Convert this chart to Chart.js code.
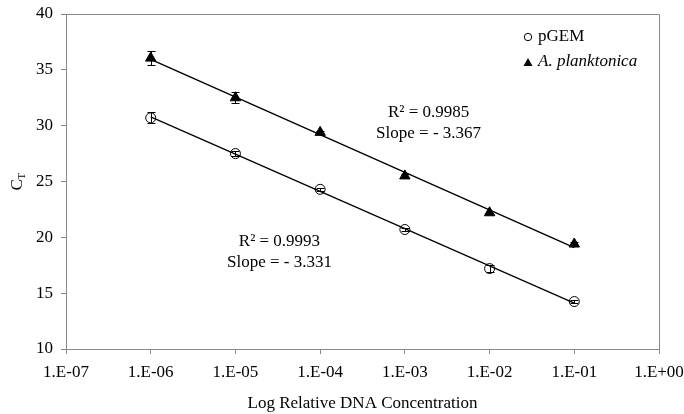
<!DOCTYPE html>
<html lang="en">
<head>
<meta charset="UTF-8">
<title>CT vs Log Relative DNA Concentration</title>
<script src="https://cdn.jsdelivr.net/npm/chart.js@4.4.0/dist/chart.umd.min.js"></script>
<style>
    html, body { margin: 0; padding: 0; background: #fff; }
</style>
</head>
<body>
<canvas id="myChart" width="684" height="414"></canvas>
<script>
    // values
    const concentrations = [1e-6, 1e-5, 1e-4, 1e-3, 1e-2, 1e-1];
    const pgemCt = [30.7, 27.5, 24.3, 20.7, 17.2, 14.25];
    const pgemErr = [0.5, 0.2, 0.15, 0.15, 0.3, 0.15];
    const planktonicaCt = [36.05, 32.5, 29.4, 25.5, 22.2, 19.4];
    const planktonicaErr = [0.6, 0.5, 0.15, 0.2, 0.15, 0.15];
    const seriesNames = ['pGEM', 'A. planktonica'];
    const fitText = [['R\u00B2 = 0.9993', 'Slope = - 3.331'], ['R\u00B2 = 0.9985', 'Slope = - 3.367']];
    const xTickValues = [1e-7, 1e-6, 1e-5, 1e-4, 1e-3, 1e-2, 1e-1, 1];
    const xTickLabels = ['1.E-07', '1.E-06', '1.E-05', '1.E-04', '1.E-03', '1.E-02', '1.E-01', '1.E+00'];

    const FONT = '"Liberation Serif", "Times New Roman", serif';
    Chart.defaults.font.family = FONT;
    Chart.defaults.font.size = 17;
    Chart.defaults.color = '#000';

    // least squares in log10(x)
    function trend(xs, ys) {
        const lx = xs.map(v => Math.log10(v));
        const n = lx.length;
        const mx = lx.reduce((a, b) => a + b, 0) / n;
        const my = ys.reduce((a, b) => a + b, 0) / n;
        let sxy = 0, sxx = 0;
        for (let i = 0; i < n; i++) {
            sxy += (lx[i] - mx) * (ys[i] - my);
            sxx += (lx[i] - mx) * (lx[i] - mx);
        }
        const slope = sxy / sxx;
        const b = my - slope * mx;
        return [xs[0], xs[n - 1]].map(x => ({ x: x, y: b + slope * Math.log10(x) }));
    }

    const pts = (ys) => concentrations.map((x, i) => ({ x: x, y: ys[i] }));

    const extras = {
        id: 'extras',
        beforeDatasetsDraw(chart) {
            const { ctx, chartArea: a } = chart;
            ctx.save();
            ctx.strokeStyle = '#888';
            ctx.lineWidth = 1;
            ctx.beginPath();
            ctx.moveTo(a.left, a.top + 0.5);
            ctx.lineTo(a.right + 0.5, a.top + 0.5);
            ctx.lineTo(a.right + 0.5, a.bottom);
            ctx.stroke();
            ctx.restore();
        },
        afterDatasetsDraw(chart) {
            const { ctx, chartArea: a } = chart;
            const xs = chart.scales.x, ys = chart.scales.y;
            ctx.save();
            // error bars
            ctx.strokeStyle = '#000';
            ctx.lineWidth = 1;
            [[pgemCt, pgemErr], [planktonicaCt, planktonicaErr]].forEach(([vals, errs]) => {
                concentrations.forEach((c, i) => {
                    const px = Math.round(xs.getPixelForValue(c)) + 0.5;
                    const top = Math.round(ys.getPixelForValue(vals[i] + errs[i])) + 0.5;
                    const bot = Math.round(ys.getPixelForValue(vals[i] - errs[i])) + 0.5;
                    ctx.beginPath();
                    ctx.moveTo(px, top); ctx.lineTo(px, bot);
                    ctx.moveTo(px - 4, top); ctx.lineTo(px + 4, top);
                    ctx.moveTo(px - 4, bot); ctx.lineTo(px + 4, bot);
                    ctx.stroke();
                });
            });

            // fit annotations
            ctx.fillStyle = '#000';
            ctx.font = '17px ' + FONT;
            ctx.textAlign = 'center';
            ctx.textBaseline = 'middle';
            const spots = [[Math.pow(10, -4.48), 19.6, 17.7], [Math.pow(10, -2.72), 31.2, 29.3]];
            spots.forEach((s, k) => {
                const px = xs.getPixelForValue(s[0]);
                ctx.fillText(fitText[k][0], px, ys.getPixelForValue(s[1]));
                ctx.fillText(fitText[k][1], px, ys.getPixelForValue(s[2]));
            });

            // legend
            const lx = a.right - 131;
            ctx.textAlign = 'left';
            ctx.beginPath();
            ctx.arc(lx, a.top + 23, 3.7, 0, Math.PI * 2);
            ctx.stroke();
            ctx.beginPath();
            ctx.moveTo(lx, a.top + 44);
            ctx.lineTo(lx + 4.5, a.top + 52);
            ctx.lineTo(lx - 4.5, a.top + 52);
            ctx.closePath();
            ctx.fill();
            ctx.font = '17px ' + FONT;
            ctx.fillText(seriesNames[0], lx + 10, a.top + 23);
            ctx.font = 'italic 17px ' + FONT;
            ctx.fillText(seriesNames[1], lx + 10, a.top + 48);

            // y axis title C with subscript T
            ctx.translate(16, (a.top + a.bottom) / 2 + 1);
            ctx.rotate(-Math.PI / 2);
            ctx.font = '17px ' + FONT;
            ctx.textAlign = 'left';
            ctx.textBaseline = 'alphabetic';
            ctx.fillText('C', -8, 6);
            ctx.font = '11px ' + FONT;
            ctx.fillText('T', 3, 9);
            ctx.restore();
        }
    };

    new Chart(document.getElementById('myChart'), {
        type: 'scatter',
        data: {
            datasets: [
                {
                    label: seriesNames[0],
                    data: pts(pgemCt),
                    pointStyle: 'circle',
                    pointRadius: 5,
                    pointBorderWidth: 1,
                    borderColor: '#000',
                    backgroundColor: 'rgba(0,0,0,0)'
                },
                {
                    label: seriesNames[1],
                    data: pts(planktonicaCt),
                    pointStyle: 'triangle',
                    pointRadius: 6,
                    borderColor: '#000',
                    backgroundColor: '#000'
                },
                {
                    label: 'pGEM fit',
                    type: 'line',
                    data: trend(concentrations, pgemCt),
                    borderColor: '#000',
                    borderWidth: 1.3,
                    pointRadius: 0
                },
                {
                    label: 'A. planktonica fit',
                    type: 'line',
                    data: trend(concentrations, planktonicaCt),
                    borderColor: '#000',
                    borderWidth: 1.3,
                    pointRadius: 0
                }
            ]
        },
        options: {
            responsive: false,
            animation: false,
            layout: { padding: { left: 0, top: 14, right: 25, bottom: 0 } },
            plugins: { legend: { display: false }, tooltip: { enabled: false } },
            scales: {
                x: {
                    type: 'logarithmic',
                    min: 1e-7,
                    max: 1,
                    afterFit: (s) => { s.height = 65; s.paddingLeft = 0; s.paddingRight = 0; },
                    afterBuildTicks: (s) => { s.ticks = xTickValues.map(v => ({ value: v })); },
                    ticks: {
                        autoSkip: false,
                        maxRotation: 0,
                        padding: 8,
                        callback: (v, i) => xTickLabels[i]
                    },
                    grid: { drawOnChartArea: false, drawTicks: true, tickLength: 5, color: '#888' },
                    border: { color: '#888' },
                    title: {
                        display: true,
                        text: 'Log Relative DNA Concentration',
                        padding: { top: 0, bottom: 0 }
                    }
                },
                y: {
                    min: 10,
                    max: 40,
                    afterFit: (s) => { s.width = 66; s.paddingTop = 0; s.paddingBottom = 0; },
                    ticks: { stepSize: 5, padding: 8 },
                    grid: { drawOnChartArea: false, drawTicks: true, tickLength: 5, color: '#888' },
                    border: { color: '#888' }
                }
            }
        },
        plugins: [extras]
    });
</script>
</body>
</html>
